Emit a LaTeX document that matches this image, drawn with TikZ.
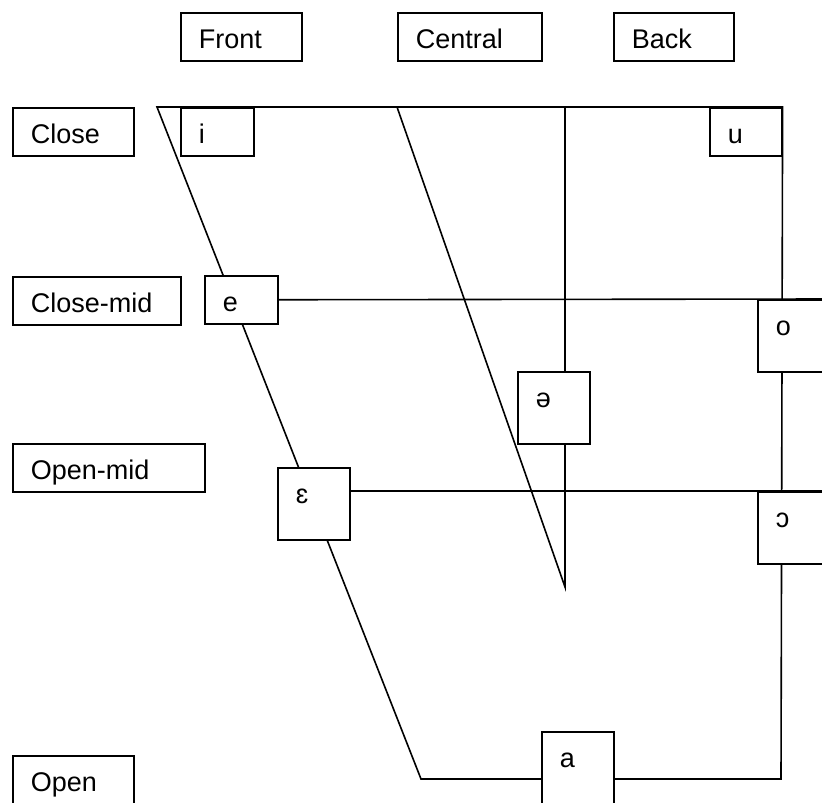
\documentclass[tikz,border=0pt]{standalone}
\usepackage{fontspec}
\setmainfont{Liberation Sans}
\usetikzlibrary{backgrounds}

\tikzset{
  caja/.style={draw, fill=white, line width=1.6pt, anchor=north west,
    inner xsep=18pt, inner ysep=0pt, align=left,
    font=\fontsize{27}{32}\selectfont, text height=36pt, text depth=12pt},
  alta/.style={text depth=36pt},
  linea/.style={line width=1.6pt}
}

\begin{document}
\begin{tikzpicture}[x=1pt,y=-1pt]
\useasboundingbox (0,0) rectangle (822,803);

%Cajas de las columnas
\node[caja, text width=85pt] (front) at (180,12) {Front};
\node[caja, text width=108pt] (central) at (397,12) {Central};
\node[caja, text width=84pt] (back) at (613,12) {Back};

%Cajas de las filas
\node[caja, text width=85pt] (close) at (12,107) {Close};
\node[caja, text width=132pt] (closemid) at (12,276) {Close-mid};
\node[caja, text width=156pt] (openmid) at (12,443) {Open-mid};
\node[caja, text width=85pt] (open) at (12,755) {Open};

%Vocales
\node[caja, text width=37pt] (i) at (180,107) {i};
\node[caja, text width=36pt] (u) at (709,107) {u};
\node[caja, text width=37pt] (e) at (204,275) {e};
\node[caja, alta, text width=36pt] (o) at (757,299) {o};
\node[caja, alta, text width=36pt] (schwa) at (517,371) {ə};
\node[caja, alta, text width=36pt] (epsilon) at (277,467) {ɛ};
\node[caja, alta, text width=36pt] (oabierta) at (757,491) {ɔ};
\node[caja, alta, text width=36pt] (a) at (541,731) {a};

%Puntos del trapecio
\coordinate (supizq) at (157,107);
\coordinate (infder) at (781,779);
\coordinate (infizq) at (421,779);
\coordinate (censup) at (397,107);
\coordinate (cenvert) at (565,107);
\coordinate (cenpunta) at (565,587);
\coordinate (semicerr) at (830,299);
\coordinate (semiab) at (830,491);

%Lineas por detras de las cajas
\begin{scope}[on background layer]
\draw [linea] (supizq) -- (u.north east) -- (infder) -- (infizq) -- cycle;
\draw [linea] (censup) -- (cenpunta) -- (cenvert);
\draw [linea] (e) -- (semicerr);
\draw [linea] (epsilon.center |- semiab) -- (semiab);
\end{scope}
\end{tikzpicture}
\end{document}
